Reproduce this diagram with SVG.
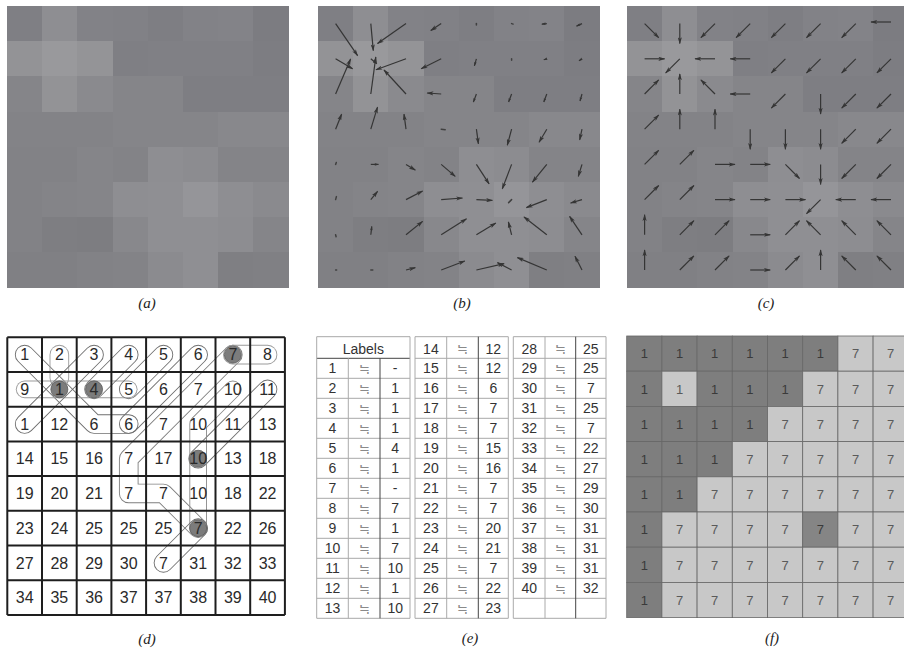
<svg xmlns="http://www.w3.org/2000/svg" xmlns:xlink="http://www.w3.org/1999/xlink" width="904" height="651" viewBox="0 0 904 651">
<style>
.cap{font-family:"Liberation Serif","Times New Roman",serif;font-style:italic;font-size:15px;fill:#222;text-anchor:middle}
.n{font-family:"Liberation Sans",Arial,sans-serif;text-anchor:middle}
.dn{font-size:16px;fill:#2a2a2a}
.tn{font-size:14px;fill:#333}
.sym{font-size:13px;fill:#8a8a8a}
.fd{font-size:13px;fill:#3a3a3a}
.fl{font-size:13px;fill:#5a5a5a}
.arr{fill:none;stroke:#353535;stroke-width:1.2;marker-end:url(#ah)}
.ars{fill:none;stroke:#353535;stroke-width:1.2;marker-end:url(#ahs)}
.dot{fill:none;stroke:#404040;stroke-width:1.5;stroke-linecap:round}
.q{fill:none;stroke-linecap:round;stroke-linejoin:round}
.mo{stroke:#fff;stroke-width:19.6}
.mi{stroke:#000;stroke-width:17.8}
.mo8{stroke:#fff;stroke-width:17.6}
.mi8{stroke:#000;stroke-width:15.8}
.grid{fill:none;stroke:#1e1e1e;stroke-width:2}
.hl{fill:none;stroke:#a8a8a8;stroke-width:1}
.vl{fill:none;stroke:#aaa;stroke-width:1}
.vd{fill:none;stroke:#444;stroke-width:1}
.circ{fill:#7c7c7c;stroke:#5a5a5a;stroke-width:0.8}
.fc{stroke:#676767;stroke-width:0.8}
</style>
<defs>
<marker id="ah" viewBox="0 0 10 6" refX="9" refY="3" markerWidth="7" markerHeight="4.4" markerUnits="userSpaceOnUse" orient="auto"><path d="M0,0 L10,3 L0,6 L2.5,3 Z" fill="#353535"/></marker>
<marker id="ahs" viewBox="0 0 10 6" refX="9" refY="3" markerWidth="4.5" markerHeight="3.2" markerUnits="userSpaceOnUse" orient="auto"><path d="M0,0 L10,3 L0,6 L2.5,3 Z" fill="#353535"/></marker>
<g id="pix" shape-rendering="crispEdges">
<rect x="0" y="0" width="35.4" height="35.4" fill="#7f7f84"/><rect x="35.2" y="0" width="35.4" height="35.4" fill="#8e8e92"/><rect x="70.4" y="0" width="35.4" height="35.4" fill="#828287"/><rect x="105.6" y="0" width="35.4" height="35.4" fill="#818186"/><rect x="140.8" y="0" width="35.4" height="35.4" fill="#7e7e83"/><rect x="176" y="0" width="35.4" height="35.4" fill="#828287"/><rect x="211.2" y="0" width="35.4" height="35.4" fill="#838388"/><rect x="246.4" y="0" width="35.2" height="35.4" fill="#7c7c81"/>
<rect x="0" y="35.2" width="35.4" height="35.4" fill="#939396"/><rect x="35.2" y="35.2" width="35.4" height="35.4" fill="#99999c"/><rect x="70.4" y="35.2" width="35.4" height="35.4" fill="#949497"/><rect x="105.6" y="35.2" width="35.4" height="35.4" fill="#7f7f84"/><rect x="140.8" y="35.2" width="35.4" height="35.4" fill="#808085"/><rect x="176" y="35.2" width="35.4" height="35.4" fill="#808085"/><rect x="211.2" y="35.2" width="35.4" height="35.4" fill="#808085"/><rect x="246.4" y="35.2" width="35.2" height="35.4" fill="#7d7d82"/>
<rect x="0" y="70.4" width="35.4" height="35.4" fill="#858589"/><rect x="35.2" y="70.4" width="35.4" height="35.4" fill="#939396"/><rect x="70.4" y="70.4" width="35.4" height="35.4" fill="#8a8a8e"/><rect x="105.6" y="70.4" width="35.4" height="35.4" fill="#858589"/><rect x="140.8" y="70.4" width="35.4" height="35.4" fill="#858589"/><rect x="176" y="70.4" width="35.4" height="35.4" fill="#7e7e83"/><rect x="211.2" y="70.4" width="35.4" height="35.4" fill="#7e7e83"/><rect x="246.4" y="70.4" width="35.2" height="35.4" fill="#7e7e83"/>
<rect x="0" y="105.6" width="35.4" height="35.4" fill="#838387"/><rect x="35.2" y="105.6" width="35.4" height="35.4" fill="#838387"/><rect x="70.4" y="105.6" width="35.4" height="35.4" fill="#838387"/><rect x="105.6" y="105.6" width="35.4" height="35.4" fill="#858589"/><rect x="140.8" y="105.6" width="35.4" height="35.4" fill="#858589"/><rect x="176" y="105.6" width="35.4" height="35.4" fill="#858589"/><rect x="211.2" y="105.6" width="35.4" height="35.4" fill="#88888c"/><rect x="246.4" y="105.6" width="35.2" height="35.4" fill="#88888c"/>
<rect x="0" y="140.8" width="35.4" height="35.4" fill="#828286"/><rect x="35.2" y="140.8" width="35.4" height="35.4" fill="#828286"/><rect x="70.4" y="140.8" width="35.4" height="35.4" fill="#858589"/><rect x="105.6" y="140.8" width="35.4" height="35.4" fill="#838387"/><rect x="140.8" y="140.8" width="35.4" height="35.4" fill="#8e8e92"/><rect x="176" y="140.8" width="35.4" height="35.4" fill="#8c8c90"/><rect x="211.2" y="140.8" width="35.4" height="35.4" fill="#848488"/><rect x="246.4" y="140.8" width="35.2" height="35.4" fill="#848488"/>
<rect x="0" y="176" width="35.4" height="35.4" fill="#828286"/><rect x="35.2" y="176" width="35.4" height="35.4" fill="#848488"/><rect x="70.4" y="176" width="35.4" height="35.4" fill="#858589"/><rect x="105.6" y="176" width="35.4" height="35.4" fill="#8e8e92"/><rect x="140.8" y="176" width="35.4" height="35.4" fill="#8f8f93"/><rect x="176" y="176" width="35.4" height="35.4" fill="#959599"/><rect x="211.2" y="176" width="35.4" height="35.4" fill="#8e8e92"/><rect x="246.4" y="176" width="35.2" height="35.4" fill="#8a8a8e"/>
<rect x="0" y="211.2" width="35.4" height="35.4" fill="#828286"/><rect x="35.2" y="211.2" width="35.4" height="35.4" fill="#7e7e82"/><rect x="70.4" y="211.2" width="35.4" height="35.4" fill="#7d7d81"/><rect x="105.6" y="211.2" width="35.4" height="35.4" fill="#88888c"/><rect x="140.8" y="211.2" width="35.4" height="35.4" fill="#8f8f93"/><rect x="176" y="211.2" width="35.4" height="35.4" fill="#8f8f93"/><rect x="211.2" y="211.2" width="35.4" height="35.4" fill="#8d8d91"/><rect x="246.4" y="211.2" width="35.2" height="35.4" fill="#858589"/>
<rect x="0" y="246.4" width="35.4" height="35.2" fill="#808084"/><rect x="35.2" y="246.4" width="35.4" height="35.2" fill="#808084"/><rect x="70.4" y="246.4" width="35.4" height="35.2" fill="#828286"/><rect x="105.6" y="246.4" width="35.4" height="35.2" fill="#838387"/><rect x="140.8" y="246.4" width="35.4" height="35.2" fill="#8b8b8f"/><rect x="176" y="246.4" width="35.4" height="35.2" fill="#8f8f93"/><rect x="211.2" y="246.4" width="35.4" height="35.2" fill="#7f7f83"/><rect x="246.4" y="246.4" width="35.2" height="35.2" fill="#808084"/>
</g>
<path id="q1" d="M24.65,354.65 L94.05,424.05 L128.75,424.05"/>
<path id="q2" d="M59.35,354.65 L59.35,378"/>
<path id="q3" d="M24.65,389.35 L128.75,389.35"/>
<path id="q4" d="M24.65,424.05 L94.05,354.65"/>
<path id="q5" d="M94.05,389.35 L128.75,354.65"/>
<path id="q6" d="M128.75,389.35 L163.45,354.65"/>
<path id="q7" d="M128.75,424.05 L198.15,354.65"/>
<path id="q8" d="M232.85,354.65 L128.75,458.75 L128.75,493.45 L163.45,493.45 L198.15,528.15"/>
<path id="q9" d="M232.85,354.65 L267.55,354.65"/>
<path id="q10" d="M267.55,389.35 L198.15,458.75"/>
<path id="q11" d="M232.85,389.35 L198.15,424.05 L198.15,528.15"/>
<path id="q12" d="M163.45,562.85 L198.15,528.15"/>
<mask id="m1" maskUnits="userSpaceOnUse" x="0" y="330" width="300" height="300"><use href="#q1" class="q mo"/><use href="#q1" class="q mi"/></mask>
<mask id="m2" maskUnits="userSpaceOnUse" x="0" y="330" width="300" height="300"><use href="#q2" class="q mo"/><use href="#q2" class="q mi"/></mask>
<mask id="m3" maskUnits="userSpaceOnUse" x="0" y="330" width="300" height="300"><use href="#q3" class="q mo8"/><use href="#q3" class="q mi8"/></mask>
<mask id="m4" maskUnits="userSpaceOnUse" x="0" y="330" width="300" height="300"><use href="#q4" class="q mo"/><use href="#q4" class="q mi"/></mask>
<mask id="m5" maskUnits="userSpaceOnUse" x="0" y="330" width="300" height="300"><use href="#q5" class="q mo"/><use href="#q5" class="q mi"/></mask>
<mask id="m6" maskUnits="userSpaceOnUse" x="0" y="330" width="300" height="300"><use href="#q6" class="q mo"/><use href="#q6" class="q mi"/></mask>
<mask id="m7" maskUnits="userSpaceOnUse" x="0" y="330" width="300" height="300"><use href="#q7" class="q mo"/><use href="#q7" class="q mi"/></mask>
<mask id="m8" maskUnits="userSpaceOnUse" x="0" y="330" width="300" height="300"><use href="#q8" class="q mo"/><use href="#q8" class="q mi"/></mask>
<mask id="m9" maskUnits="userSpaceOnUse" x="0" y="330" width="300" height="300"><use href="#q9" class="q mo"/><use href="#q9" class="q mi"/></mask>
<mask id="m10" maskUnits="userSpaceOnUse" x="0" y="330" width="300" height="300"><use href="#q10" class="q mo"/><use href="#q10" class="q mi"/></mask>
<mask id="m11" maskUnits="userSpaceOnUse" x="0" y="330" width="300" height="300"><use href="#q11" class="q mo8"/><use href="#q11" class="q mi8"/></mask>
<mask id="m12" maskUnits="userSpaceOnUse" x="0" y="330" width="300" height="300"><use href="#q12" class="q mo"/><use href="#q12" class="q mi"/></mask>
</defs>
<rect width="904" height="651" fill="#fff"/>

<g id="panel-a">
<use href="#pix" transform="translate(7,6)"/>
</g>

<g id="panel-b">
<use href="#pix" transform="translate(318,6)"/>
<g id="arrows-b">
<path class="arr" d="M335.6,23.6 l22,32"/><path class="arr" d="M370.8,23.6 l2.5,27"/><path class="arr" d="M406,23.6 l-28.5,20"/><path class="arr" d="M441.2,23.6 l-10.4,7"/><path class="dot" d="M476.4,23.6 l0,1.5"/><path class="dot" d="M511.6,23.6 l1.5,0.5"/><path class="ars" d="M546.8,23.6 l-5,0.5"/><path class="ars" d="M582,23.6 l-5.5,2.5"/>
<path class="arr" d="M335.6,58.8 l17,10"/><path class="ars" d="M370.8,58.8 l6,5"/><path class="arr" d="M406,58.8 l-30,11"/><path class="arr" d="M441.2,58.8 l-20,10"/><path class="ars" d="M476.4,58.8 l-2,7"/><path class="dot" d="M511.6,58.8 l0,1.5"/><path class="ars" d="M546.8,58.8 l-3,1"/><path class="ars" d="M582,58.8 l-3,2"/>
<path class="arr" d="M335.6,94 l15,-35"/><path class="arr" d="M370.8,94 l5,-37"/><path class="arr" d="M406,94 l-22,-24"/><path class="arr" d="M441.2,94 l-14,-1"/><path class="ars" d="M476.4,94 l-3,8"/><path class="ars" d="M511.6,94 l-3,8"/><path class="ars" d="M546.8,94 l-3,8"/><path class="ars" d="M582,94 l-2,7"/>
<path class="arr" d="M335.6,129.2 l6,-15"/><path class="arr" d="M370.8,129.2 l6.7,-22"/><path class="arr" d="M406,129.2 l-2,-15"/><path class="dot" d="M441.2,129.2 l4,0.5"/><path class="arr" d="M476.4,129.2 l2,14.6"/><path class="arr" d="M511.6,129.2 l-4.3,16"/><path class="arr" d="M546.8,129.2 l-7.7,13"/><path class="arr" d="M582,129.2 l-2.3,10.7"/>
<path class="dot" d="M335.6,164.4 l0.7,-2"/><path class="ars" d="M370.8,164.4 l7.7,0"/><path class="arr" d="M406,164.4 l9.3,5.7"/><path class="arr" d="M441.2,164.4 l14,12"/><path class="arr" d="M476.4,164.4 l12.7,19.4"/><path class="arr" d="M511.6,164.4 l-9.3,24.4"/><path class="arr" d="M546.8,164.4 l-14.4,17.7"/><path class="arr" d="M582,164.4 l-3.7,12"/>
<path class="dot" d="M335.6,199.6 l0.8,-3"/><path class="arr" d="M370.8,199.6 l6.8,-8.2"/><path class="arr" d="M406,199.6 l16.6,-8.6"/><path class="arr" d="M441.2,199.6 l21.3,-1.6"/><path class="arr" d="M476.4,199.6 l16,0.8"/><path class="dot" d="M511.6,199.6 l-3,3"/><path class="arr" d="M546.8,199.6 l-20.4,8"/><path class="arr" d="M582,199.6 l-11.4,3.4"/>
<path class="dot" d="M335.6,234.8 l0.5,2"/><path class="ars" d="M370.8,234.8 l1,-8.4"/><path class="arr" d="M406,234.8 l16.6,-13.4"/><path class="arr" d="M441.2,234.8 l25.3,-16"/><path class="arr" d="M476.4,234.8 l19.4,-11.8"/><path class="arr" d="M511.6,234.8 l-3.2,-12.8"/><path class="arr" d="M546.8,234.8 l-22.8,-17.8"/><path class="arr" d="M582,234.8 l-12.4,-18.4"/>
<path class="dot" d="M335.6,270 l1,0"/><path class="dot" d="M370.8,270 l2,0"/><path class="arr" d="M406,270 l9.3,-2.4"/><path class="arr" d="M441.2,270 l23.6,-9"/><path class="arr" d="M476.4,270 l27.7,-6.4"/><path class="arr" d="M511.6,270 l-14.2,-7.4"/><path class="arr" d="M546.8,270 l-29.4,-12.4"/><path class="arr" d="M582,270 l-7,-13.7"/>
</g>
</g>

<g id="panel-c">
<use href="#pix" transform="translate(627,6)"/>
<g id="arrows-c">
<path class="arr" d="M644.6,23.6 l14.1,14.1"/><path class="arr" d="M679.8,23.6 l0,20"/><path class="arr" d="M715,23.6 l-14.1,14.1"/><path class="arr" d="M750.2,23.6 l-14.1,14.1"/><path class="arr" d="M785.4,23.6 l-14.1,14.1"/><path class="arr" d="M820.6,23.6 l-14.1,14.1"/><path class="arr" d="M855.8,23.6 l-14.1,14.1"/><path class="arr" d="M891,22 l-20,0"/>
<path class="arr" d="M644.6,58.8 l20,0"/><path class="arr" d="M679.8,58.8 l-14.1,14.1"/><path class="arr" d="M715,58.8 l-20,0"/><path class="arr" d="M750.2,58.8 l-20,0"/><path class="arr" d="M785.4,58.8 l-14.1,14.1"/><path class="arr" d="M820.6,58.8 l-14.1,14.1"/><path class="arr" d="M855.8,58.8 l-14.1,14.1"/><path class="arr" d="M891,58.8 l-14.1,14.1"/>
<path class="arr" d="M644.6,94 l14.1,-14.1"/><path class="arr" d="M679.8,94 l0,-20"/><path class="arr" d="M715,94 l-14.1,-14.1"/><path class="arr" d="M750.2,94 l-20,0"/><path class="arr" d="M785.4,94 l-14.1,14.1"/><path class="arr" d="M820.6,94 l0,20"/><path class="arr" d="M855.8,94 l-14.1,14.1"/><path class="arr" d="M891,94 l-14.1,14.1"/>
<path class="arr" d="M644.6,129.2 l14.1,-14.1"/><path class="arr" d="M679.8,129.2 l0,-20"/><path class="arr" d="M715,129.2 l0,-20"/><path class="arr" d="M750.2,129.2 l0,20"/><path class="arr" d="M785.4,129.2 l0,20"/><path class="arr" d="M820.6,129.2 l0,20"/><path class="arr" d="M855.8,129.2 l-14.1,14.1"/><path class="arr" d="M891,129.2 l-14.1,14.1"/>
<path class="arr" d="M644.6,164.4 l14.1,-14.1"/><path class="arr" d="M679.8,164.4 l14.1,-14.1"/><path class="arr" d="M715,164.4 l20,0"/><path class="arr" d="M750.2,164.4 l20,0"/><path class="arr" d="M785.4,164.4 l14.1,14.1"/><path class="arr" d="M820.6,164.4 l0,20"/><path class="arr" d="M855.8,164.4 l-14.1,14.1"/><path class="arr" d="M891,164.4 l-14.1,14.1"/>
<path class="arr" d="M644.6,199.6 l14.1,-14.1"/><path class="arr" d="M679.8,199.6 l14.1,-14.1"/><path class="arr" d="M715,199.6 l20,0"/><path class="arr" d="M750.2,199.6 l20,0"/><path class="arr" d="M785.4,199.6 l20,0"/><path class="arr" d="M820.6,199.6 l-14.1,14.1"/><path class="arr" d="M855.8,199.6 l-20,0"/><path class="arr" d="M891,199.6 l-20,0"/>
<path class="arr" d="M644.6,234.8 l0,-20"/><path class="arr" d="M679.8,234.8 l14.1,-14.1"/><path class="arr" d="M715,234.8 l14.1,-14.1"/><path class="arr" d="M750.2,234.8 l20,0"/><path class="arr" d="M785.4,234.8 l14.1,-14.1"/><path class="arr" d="M820.6,234.8 l-14.1,-14.1"/><path class="arr" d="M855.8,234.8 l-14.1,-14.1"/><path class="arr" d="M891,234.8 l-14.1,-14.1"/>
<path class="arr" d="M644.6,270 l0,-20"/><path class="arr" d="M679.8,270 l14.1,-14.1"/><path class="arr" d="M715,270 l14.1,-14.1"/><path class="arr" d="M750.2,270 l20,0"/><path class="arr" d="M785.4,270 l14.1,-14.1"/><path class="arr" d="M820.6,270 l0,-20"/><path class="arr" d="M855.8,270 l-14.1,-14.1"/><path class="arr" d="M891,270 l-14.1,-14.1"/>
</g>
</g>

<g id="captions-top">
<text class="cap" x="147" y="308">(a)</text>
<text class="cap" x="462" y="308">(b)</text>
<text class="cap" x="766" y="308">(c)</text>
</g>

<g id="panel-d">
<g id="loops-d">
<rect x="0" y="330" width="300" height="300" fill="#6e6e6e" mask="url(#m1)"/>
<rect x="0" y="330" width="300" height="300" fill="#9a9a9a" mask="url(#m2)"/>
<rect x="0" y="330" width="300" height="300" fill="#9a9a9a" mask="url(#m3)"/>
<rect x="0" y="330" width="300" height="300" fill="#6e6e6e" mask="url(#m4)"/>
<rect x="0" y="330" width="300" height="300" fill="#6e6e6e" mask="url(#m5)"/>
<rect x="0" y="330" width="300" height="300" fill="#6e6e6e" mask="url(#m6)"/>
<rect x="0" y="330" width="300" height="300" fill="#6e6e6e" mask="url(#m7)"/>
<rect x="0" y="330" width="300" height="300" fill="#7e7e7e" mask="url(#m8)"/>
<rect x="0" y="330" width="300" height="300" fill="#9a9a9a" mask="url(#m9)"/>
<rect x="0" y="330" width="300" height="300" fill="#6e6e6e" mask="url(#m10)"/>
<rect x="0" y="330" width="300" height="300" fill="#8a8a8a" mask="url(#m11)"/>
<rect x="0" y="330" width="300" height="300" fill="#6e6e6e" mask="url(#m12)"/>
</g>
<g id="seeds-d">
<circle class="circ" cx="59.35" cy="389.35" r="8.5"/>
<circle class="circ" cx="94.05" cy="389.35" r="8.5"/>
<circle class="circ" cx="232.85" cy="354.65" r="8.5"/>
<circle class="circ" cx="198.15" cy="458.75" r="8.5"/>
<circle class="circ" cx="198.15" cy="528.15" r="8.5"/>
</g>
<g id="labels-d" class="n dn">
<text x="24.65" y="360.35">1</text><text x="59.35" y="360.35">2</text><text x="94.05" y="360.35">3</text><text x="128.75" y="360.35">4</text><text x="163.45" y="360.35">5</text><text x="198.15" y="360.35">6</text><text x="232.85" y="360.35">7</text><text x="267.55" y="360.35">8</text>
<text x="24.65" y="395.05">9</text><text x="59.35" y="395.05">1</text><text x="94.05" y="395.05">4</text><text x="128.75" y="395.05">5</text><text x="163.45" y="395.05">6</text><text x="198.15" y="395.05">7</text><text x="232.85" y="395.05">10</text><text x="267.55" y="395.05">11</text>
<text x="24.65" y="429.75">1</text><text x="59.35" y="429.75">12</text><text x="94.05" y="429.75">6</text><text x="128.75" y="429.75">6</text><text x="163.45" y="429.75">7</text><text x="198.15" y="429.75">10</text><text x="232.85" y="429.75">11</text><text x="267.55" y="429.75">13</text>
<text x="24.65" y="464.45">14</text><text x="59.35" y="464.45">15</text><text x="94.05" y="464.45">16</text><text x="128.75" y="464.45">7</text><text x="163.45" y="464.45">17</text><text x="198.15" y="464.45">10</text><text x="232.85" y="464.45">13</text><text x="267.55" y="464.45">18</text>
<text x="24.65" y="499.15">19</text><text x="59.35" y="499.15">20</text><text x="94.05" y="499.15">21</text><text x="128.75" y="499.15">7</text><text x="163.45" y="499.15">7</text><text x="198.15" y="499.15">10</text><text x="232.85" y="499.15">18</text><text x="267.55" y="499.15">22</text>
<text x="24.65" y="533.85">23</text><text x="59.35" y="533.85">24</text><text x="94.05" y="533.85">25</text><text x="128.75" y="533.85">25</text><text x="163.45" y="533.85">25</text><text x="198.15" y="533.85">7</text><text x="232.85" y="533.85">22</text><text x="267.55" y="533.85">26</text>
<text x="24.65" y="568.55">27</text><text x="59.35" y="568.55">28</text><text x="94.05" y="568.55">29</text><text x="128.75" y="568.55">30</text><text x="163.45" y="568.55">7</text><text x="198.15" y="568.55">31</text><text x="232.85" y="568.55">32</text><text x="267.55" y="568.55">33</text>
<text x="24.65" y="603.25">34</text><text x="59.35" y="603.25">35</text><text x="94.05" y="603.25">36</text><text x="128.75" y="603.25">37</text><text x="163.45" y="603.25">37</text><text x="198.15" y="603.25">38</text><text x="232.85" y="603.25">39</text><text x="267.55" y="603.25">40</text>
</g>
<path class="grid" d="M7.3,337.3 V615 M42,337.3 V615 M76.7,337.3 V615 M111.4,337.3 V615 M146.1,337.3 V615 M180.8,337.3 V615 M215.5,337.3 V615 M250.2,337.3 V615 M284.9,337.3 V615 M7.3,337.3 H284.9 M7.3,372 H284.9 M7.3,406.7 H284.9 M7.3,441.4 H284.9 M7.3,476.1 H284.9 M7.3,510.8 H284.9 M7.3,545.5 H284.9 M7.3,580.2 H284.9 M7.3,614.9 H284.9"/>
</g>

<g id="panel-e">
<path class="hl" d="M316.7,336.7 H410 M415,336.7 H508.3 M513.3,336.7 H606 M316.7,378.3 H410 M415,378.3 H508.3 M513.3,378.3 H606 M316.7,398.3 H410 M415,398.3 H508.3 M513.3,398.3 H606 M316.7,418.3 H410 M415,418.3 H508.3 M513.3,418.3 H606 M316.7,438.3 H410 M415,438.3 H508.3 M513.3,438.3 H606 M316.7,458.3 H410 M415,458.3 H508.3 M513.3,458.3 H606 M316.7,478.3 H410 M415,478.3 H508.3 M513.3,478.3 H606 M316.7,498.3 H410 M415,498.3 H508.3 M513.3,498.3 H606 M316.7,518.3 H410 M415,518.3 H508.3 M513.3,518.3 H606 M316.7,538.3 H410 M415,538.3 H508.3 M513.3,538.3 H606 M316.7,558.3 H410 M415,558.3 H508.3 M513.3,558.3 H606 M316.7,578.3 H410 M415,578.3 H508.3 M513.3,578.3 H606 M316.7,598.3 H410 M415,598.3 H508.3 M513.3,598.3 H606 M316.7,618.3 H410 M415,618.3 H508.3 M513.3,618.3 H606 M415,358.3 H508.3 M513.3,358.3 H606"/>
<path class="vd" d="M316.7,358.3 H410"/>
<path class="vl" d="M316.7,336.7 V618.3 M348.3,358.3 V618.3 M410,336.7 V618.3 M415,336.7 V618.3 M446.7,336.7 V618.3 M508.3,336.7 V618.3 M513.3,336.7 V618.3 M545,336.7 V618.3 M606,336.7 V618.3"/>
<path class="vd" d="M380,358.3 V618.3 M478.3,336.7 V618.3 M575.7,336.7 V618.3"/>
<g id="table-e" class="n tn">
<text x="363.3" y="353.5">Labels</text>
<text x="332.5" y="373.3">1</text><text x="395.2" y="373.3">-</text>
<text x="332.5" y="393.3">2</text><text x="395.2" y="393.3">1</text>
<text x="332.5" y="413.3">3</text><text x="395.2" y="413.3">1</text>
<text x="332.5" y="433.3">4</text><text x="395.2" y="433.3">1</text>
<text x="332.5" y="453.3">5</text><text x="395.2" y="453.3">4</text>
<text x="332.5" y="473.3">6</text><text x="395.2" y="473.3">1</text>
<text x="332.5" y="493.3">7</text><text x="395.2" y="493.3">-</text>
<text x="332.5" y="513.3">8</text><text x="395.2" y="513.3">7</text>
<text x="332.5" y="533.3">9</text><text x="395.2" y="533.3">1</text>
<text x="332.5" y="553.3">10</text><text x="395.2" y="553.3">7</text>
<text x="332.5" y="573.3">11</text><text x="395.2" y="573.3">10</text>
<text x="332.5" y="593.3">12</text><text x="395.2" y="593.3">1</text>
<text x="332.5" y="613.3">13</text><text x="395.2" y="613.3">10</text>
<text x="430.9" y="353.5">14</text><text x="493.3" y="353.5">12</text>
<text x="430.9" y="373.3">15</text><text x="493.3" y="373.3">12</text>
<text x="430.9" y="393.3">16</text><text x="493.3" y="393.3">6</text>
<text x="430.9" y="413.3">17</text><text x="493.3" y="413.3">7</text>
<text x="430.9" y="433.3">18</text><text x="493.3" y="433.3">7</text>
<text x="430.9" y="453.3">19</text><text x="493.3" y="453.3">15</text>
<text x="430.9" y="473.3">20</text><text x="493.3" y="473.3">16</text>
<text x="430.9" y="493.3">21</text><text x="493.3" y="493.3">7</text>
<text x="430.9" y="513.3">22</text><text x="493.3" y="513.3">7</text>
<text x="430.9" y="533.3">23</text><text x="493.3" y="533.3">20</text>
<text x="430.9" y="553.3">24</text><text x="493.3" y="553.3">21</text>
<text x="430.9" y="573.3">25</text><text x="493.3" y="573.3">7</text>
<text x="430.9" y="593.3">26</text><text x="493.3" y="593.3">22</text>
<text x="430.9" y="613.3">27</text><text x="493.3" y="613.3">23</text>
<text x="529.2" y="353.5">28</text><text x="590.8" y="353.5">25</text>
<text x="529.2" y="373.3">29</text><text x="590.8" y="373.3">25</text>
<text x="529.2" y="393.3">30</text><text x="590.8" y="393.3">7</text>
<text x="529.2" y="413.3">31</text><text x="590.8" y="413.3">25</text>
<text x="529.2" y="433.3">32</text><text x="590.8" y="433.3">7</text>
<text x="529.2" y="453.3">33</text><text x="590.8" y="453.3">22</text>
<text x="529.2" y="473.3">34</text><text x="590.8" y="473.3">27</text>
<text x="529.2" y="493.3">35</text><text x="590.8" y="493.3">29</text>
<text x="529.2" y="513.3">36</text><text x="590.8" y="513.3">30</text>
<text x="529.2" y="533.3">37</text><text x="590.8" y="533.3">31</text>
<text x="529.2" y="553.3">38</text><text x="590.8" y="553.3">31</text>
<text x="529.2" y="573.3">39</text><text x="590.8" y="573.3">31</text>
<text x="529.2" y="593.3">40</text><text x="590.8" y="593.3">32</text>
</g>
<g id="table-e-sym" class="n sym">
<text x="364.2" y="372.8">≒</text><text x="364.2" y="392.8">≒</text><text x="364.2" y="412.8">≒</text><text x="364.2" y="432.8">≒</text><text x="364.2" y="452.8">≒</text><text x="364.2" y="472.8">≒</text><text x="364.2" y="492.8">≒</text><text x="364.2" y="512.8">≒</text><text x="364.2" y="532.8">≒</text><text x="364.2" y="552.8">≒</text><text x="364.2" y="572.8">≒</text><text x="364.2" y="592.8">≒</text><text x="364.2" y="612.8">≒</text>
<text x="462.5" y="353">≒</text><text x="462.5" y="372.8">≒</text><text x="462.5" y="392.8">≒</text><text x="462.5" y="412.8">≒</text><text x="462.5" y="432.8">≒</text><text x="462.5" y="452.8">≒</text><text x="462.5" y="472.8">≒</text><text x="462.5" y="492.8">≒</text><text x="462.5" y="512.8">≒</text><text x="462.5" y="532.8">≒</text><text x="462.5" y="552.8">≒</text><text x="462.5" y="572.8">≒</text><text x="462.5" y="592.8">≒</text><text x="462.5" y="612.8">≒</text>
<text x="560.4" y="353">≒</text><text x="560.4" y="372.8">≒</text><text x="560.4" y="392.8">≒</text><text x="560.4" y="412.8">≒</text><text x="560.4" y="432.8">≒</text><text x="560.4" y="452.8">≒</text><text x="560.4" y="472.8">≒</text><text x="560.4" y="492.8">≒</text><text x="560.4" y="512.8">≒</text><text x="560.4" y="532.8">≒</text><text x="560.4" y="552.8">≒</text><text x="560.4" y="572.8">≒</text><text x="560.4" y="592.8">≒</text>
</g>
</g>

<g id="panel-f">
<g id="cells-f" class="fc">
<rect x="626.7" y="336" width="35.2" height="35.2" fill="#7e7e7e"/><rect x="661.9" y="336" width="35.2" height="35.2" fill="#7e7e7e"/><rect x="697.1" y="336" width="35.2" height="35.2" fill="#7e7e7e"/><rect x="732.3" y="336" width="35.2" height="35.2" fill="#7e7e7e"/><rect x="767.5" y="336" width="35.2" height="35.2" fill="#7e7e7e"/><rect x="802.7" y="336" width="35.2" height="35.2" fill="#7e7e7e"/><rect x="837.9" y="336" width="35.2" height="35.2" fill="#c8c8c8"/><rect x="873.1" y="336" width="35.2" height="35.2" fill="#c8c8c8"/>
<rect x="626.7" y="371.2" width="35.2" height="35.2" fill="#7e7e7e"/><rect x="661.9" y="371.2" width="35.2" height="35.2" fill="#c8c8c8"/><rect x="697.1" y="371.2" width="35.2" height="35.2" fill="#7e7e7e"/><rect x="732.3" y="371.2" width="35.2" height="35.2" fill="#7e7e7e"/><rect x="767.5" y="371.2" width="35.2" height="35.2" fill="#7e7e7e"/><rect x="802.7" y="371.2" width="35.2" height="35.2" fill="#c8c8c8"/><rect x="837.9" y="371.2" width="35.2" height="35.2" fill="#c8c8c8"/><rect x="873.1" y="371.2" width="35.2" height="35.2" fill="#c8c8c8"/>
<rect x="626.7" y="406.4" width="35.2" height="35.2" fill="#7e7e7e"/><rect x="661.9" y="406.4" width="35.2" height="35.2" fill="#7e7e7e"/><rect x="697.1" y="406.4" width="35.2" height="35.2" fill="#7e7e7e"/><rect x="732.3" y="406.4" width="35.2" height="35.2" fill="#7e7e7e"/><rect x="767.5" y="406.4" width="35.2" height="35.2" fill="#c8c8c8"/><rect x="802.7" y="406.4" width="35.2" height="35.2" fill="#c8c8c8"/><rect x="837.9" y="406.4" width="35.2" height="35.2" fill="#c8c8c8"/><rect x="873.1" y="406.4" width="35.2" height="35.2" fill="#c8c8c8"/>
<rect x="626.7" y="441.6" width="35.2" height="35.2" fill="#7e7e7e"/><rect x="661.9" y="441.6" width="35.2" height="35.2" fill="#7e7e7e"/><rect x="697.1" y="441.6" width="35.2" height="35.2" fill="#7e7e7e"/><rect x="732.3" y="441.6" width="35.2" height="35.2" fill="#c8c8c8"/><rect x="767.5" y="441.6" width="35.2" height="35.2" fill="#c8c8c8"/><rect x="802.7" y="441.6" width="35.2" height="35.2" fill="#c8c8c8"/><rect x="837.9" y="441.6" width="35.2" height="35.2" fill="#c8c8c8"/><rect x="873.1" y="441.6" width="35.2" height="35.2" fill="#c8c8c8"/>
<rect x="626.7" y="476.8" width="35.2" height="35.2" fill="#7e7e7e"/><rect x="661.9" y="476.8" width="35.2" height="35.2" fill="#7e7e7e"/><rect x="697.1" y="476.8" width="35.2" height="35.2" fill="#c8c8c8"/><rect x="732.3" y="476.8" width="35.2" height="35.2" fill="#c8c8c8"/><rect x="767.5" y="476.8" width="35.2" height="35.2" fill="#c8c8c8"/><rect x="802.7" y="476.8" width="35.2" height="35.2" fill="#c8c8c8"/><rect x="837.9" y="476.8" width="35.2" height="35.2" fill="#c8c8c8"/><rect x="873.1" y="476.8" width="35.2" height="35.2" fill="#c8c8c8"/>
<rect x="626.7" y="512" width="35.2" height="35.2" fill="#7e7e7e"/><rect x="661.9" y="512" width="35.2" height="35.2" fill="#c8c8c8"/><rect x="697.1" y="512" width="35.2" height="35.2" fill="#c8c8c8"/><rect x="732.3" y="512" width="35.2" height="35.2" fill="#c8c8c8"/><rect x="767.5" y="512" width="35.2" height="35.2" fill="#c8c8c8"/><rect x="802.7" y="512" width="35.2" height="35.2" fill="#858585"/><rect x="837.9" y="512" width="35.2" height="35.2" fill="#c8c8c8"/><rect x="873.1" y="512" width="35.2" height="35.2" fill="#c8c8c8"/>
<rect x="626.7" y="547.2" width="35.2" height="35.2" fill="#7e7e7e"/><rect x="661.9" y="547.2" width="35.2" height="35.2" fill="#c8c8c8"/><rect x="697.1" y="547.2" width="35.2" height="35.2" fill="#c8c8c8"/><rect x="732.3" y="547.2" width="35.2" height="35.2" fill="#c8c8c8"/><rect x="767.5" y="547.2" width="35.2" height="35.2" fill="#c8c8c8"/><rect x="802.7" y="547.2" width="35.2" height="35.2" fill="#c8c8c8"/><rect x="837.9" y="547.2" width="35.2" height="35.2" fill="#c8c8c8"/><rect x="873.1" y="547.2" width="35.2" height="35.2" fill="#c8c8c8"/>
<rect x="626.7" y="582.4" width="35.2" height="35.2" fill="#7e7e7e"/><rect x="661.9" y="582.4" width="35.2" height="35.2" fill="#c8c8c8"/><rect x="697.1" y="582.4" width="35.2" height="35.2" fill="#c8c8c8"/><rect x="732.3" y="582.4" width="35.2" height="35.2" fill="#c8c8c8"/><rect x="767.5" y="582.4" width="35.2" height="35.2" fill="#c8c8c8"/><rect x="802.7" y="582.4" width="35.2" height="35.2" fill="#c8c8c8"/><rect x="837.9" y="582.4" width="35.2" height="35.2" fill="#c8c8c8"/><rect x="873.1" y="582.4" width="35.2" height="35.2" fill="#c8c8c8"/>
</g>
<g id="labels-f" class="n">
<text class="fd" x="644.3" y="358.3">1</text><text class="fd" x="679.5" y="358.3">1</text><text class="fd" x="714.7" y="358.3">1</text><text class="fd" x="749.9" y="358.3">1</text><text class="fd" x="785.1" y="358.3">1</text><text class="fd" x="820.3" y="358.3">1</text><text class="fl" x="855.5" y="358.3">7</text><text class="fl" x="890.7" y="358.3">7</text>
<text class="fd" x="644.3" y="393.5">1</text><text class="fl" x="679.5" y="393.5">1</text><text class="fd" x="714.7" y="393.5">1</text><text class="fd" x="749.9" y="393.5">1</text><text class="fd" x="785.1" y="393.5">1</text><text class="fl" x="820.3" y="393.5">7</text><text class="fl" x="855.5" y="393.5">7</text><text class="fl" x="890.7" y="393.5">7</text>
<text class="fd" x="644.3" y="428.7">1</text><text class="fd" x="679.5" y="428.7">1</text><text class="fd" x="714.7" y="428.7">1</text><text class="fd" x="749.9" y="428.7">1</text><text class="fl" x="785.1" y="428.7">7</text><text class="fl" x="820.3" y="428.7">7</text><text class="fl" x="855.5" y="428.7">7</text><text class="fl" x="890.7" y="428.7">7</text>
<text class="fd" x="644.3" y="463.9">1</text><text class="fd" x="679.5" y="463.9">1</text><text class="fd" x="714.7" y="463.9">1</text><text class="fl" x="749.9" y="463.9">7</text><text class="fl" x="785.1" y="463.9">7</text><text class="fl" x="820.3" y="463.9">7</text><text class="fl" x="855.5" y="463.9">7</text><text class="fl" x="890.7" y="463.9">7</text>
<text class="fd" x="644.3" y="499.1">1</text><text class="fd" x="679.5" y="499.1">1</text><text class="fl" x="714.7" y="499.1">7</text><text class="fl" x="749.9" y="499.1">7</text><text class="fl" x="785.1" y="499.1">7</text><text class="fl" x="820.3" y="499.1">7</text><text class="fl" x="855.5" y="499.1">7</text><text class="fl" x="890.7" y="499.1">7</text>
<text class="fd" x="644.3" y="534.3">1</text><text class="fl" x="679.5" y="534.3">7</text><text class="fl" x="714.7" y="534.3">7</text><text class="fl" x="749.9" y="534.3">7</text><text class="fl" x="785.1" y="534.3">7</text><text class="fd" x="820.3" y="534.3">7</text><text class="fl" x="855.5" y="534.3">7</text><text class="fl" x="890.7" y="534.3">7</text>
<text class="fd" x="644.3" y="569.5">1</text><text class="fl" x="679.5" y="569.5">7</text><text class="fl" x="714.7" y="569.5">7</text><text class="fl" x="749.9" y="569.5">7</text><text class="fl" x="785.1" y="569.5">7</text><text class="fl" x="820.3" y="569.5">7</text><text class="fl" x="855.5" y="569.5">7</text><text class="fl" x="890.7" y="569.5">7</text>
<text class="fd" x="644.3" y="604.7">1</text><text class="fl" x="679.5" y="604.7">7</text><text class="fl" x="714.7" y="604.7">7</text><text class="fl" x="749.9" y="604.7">7</text><text class="fl" x="785.1" y="604.7">7</text><text class="fl" x="820.3" y="604.7">7</text><text class="fl" x="855.5" y="604.7">7</text><text class="fl" x="890.7" y="604.7">7</text>
</g>
</g>

<g id="captions-bottom">
<text class="cap" x="147" y="644">(d)</text>
<text class="cap" x="470" y="643">(e)</text>
<text class="cap" x="772" y="643">(f)</text>
</g>
</svg>
